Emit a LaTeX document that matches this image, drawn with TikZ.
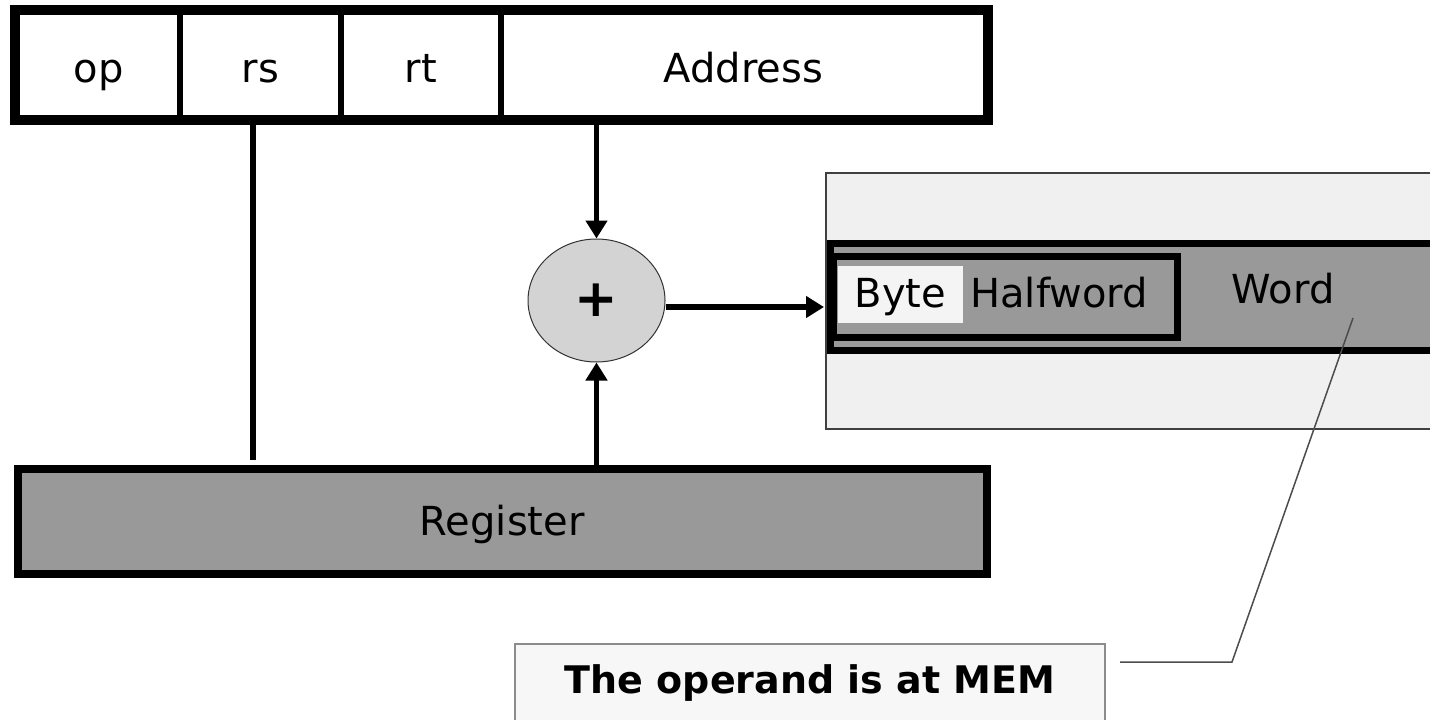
\documentclass[tikz,border=0pt]{standalone}
\usepackage{fontspec}
\setmainfont{DejaVu Sans}
\usetikzlibrary{shapes.geometric,arrows.meta}
\definecolor{regGray}{HTML}{999999}
\definecolor{addGray}{HTML}{D3D3D3}
\definecolor{memGray}{HTML}{F0F0F0}
\definecolor{noteGray}{HTML}{F7F7F7}
\definecolor{byteFill}{HTML}{F4F4F4}
\newcommand{\lblfont}{\fontsize{40}{48}\selectfont}
\newcommand{\notefont}{\fontsize{38}{46}\selectfont\bfseries}
\begin{document}
\begin{tikzpicture}[x=1pt,y=-1pt,
  field/.style={draw, line width=6pt, minimum height=106pt, inner sep=0pt, font=\lblfont, text height=34pt, text depth=0pt},
  regbox/.style={draw, line width=8pt, fill=regGray, inner sep=0pt, font=\lblfont, text height=28pt, text depth=0pt},
  adder/.style={ellipse, draw=black!80, line width=1pt, fill=addGray, inner sep=0pt, font=\fontsize{52}{60}\selectfont\bfseries},
  thickline/.style={line width=6pt},
  flow/.style={line width=5.5pt, -{Triangle[length=18pt,width=21pt]}},
  membox/.style={draw=black!75, line width=1.5pt, fill=memGray, inner sep=0pt},
  band/.style={draw, line width=7pt, inner sep=0pt},
  lbl/.style={inner sep=0pt, font=\lblfont, anchor=base},
  notebox/.style={draw=black!45, line width=1.5pt, fill=noteGray, inner sep=0pt},
  pointer/.style={draw=black!70, line width=1.5pt}
]
\useasboundingbox (0,0) rectangle (1430,720);

% instruction format
\node[field, minimum width=163pt] (op) at (98.5,65) {op};
\node[field, minimum width=161pt] (rs) at (260.5,65) {rs};
\node[field, minimum width=160pt] (rt) at (421,65) {rt};
\node[field, minimum width=485pt] (addr) at (743.5,65) {Address};
\draw[line width=8pt] (op.north west) rectangle (addr.south east);

% register
\node[regbox, minimum width=969.5pt, minimum height=105.5pt] (reg) at (502.25,521.25) {Register};

% adder
\node[adder, minimum width=137pt, minimum height=123pt] (add) at (596.5,300.5) {+};

% memory
\node[membox, minimum width=620pt, minimum height=256pt, anchor=north west] (mem) at (825,172) {};
\node[band, fill=regGray, minimum width=620pt, minimum height=107pt, anchor=north west] (word) at (826.5,239.5) {};
\node[band, minimum width=344pt, minimum height=81pt, anchor=north west] (half) at (830,253) {};
\node[fill=byteFill, minimum width=125pt, minimum height=57pt, inner sep=0pt, font=\lblfont, text height=29pt, text depth=4pt] (byte) at (900.5,294.5) {Byte};
\node[lbl] (hwtext) at (1059,307) {Halfword};
\node[lbl] (wordtext) at (1283,303) {Word};

% note
\node[notebox, minimum width=590pt, minimum height=110pt, anchor=north] (note) at (810,643) {};
\node[inner sep=0pt, font=\notefont, anchor=base] (notetext) at (810,693) {The operand is at MEM};

% connectors
\coordinate (rsend) at (252.5,460);
\draw[thickline] (rs.south -| rsend) ++(0,-5) -- (rsend);
\draw[flow] (addr.south -| add.north) -- (add.north);
\draw[flow] (reg.north -| add.south) -- (add.south);
\coordinate (memin) at (824,307);
\draw[flow] (add.east |- memin) -- (memin);

\coordinate (ptr) at (1353,318);
\coordinate (ptrbend) at (1232,662);
\coordinate (ptrend) at (1120,662);
\draw[pointer] (ptr) -- (ptrbend) -- (ptrend);
\end{tikzpicture}
\end{document}
